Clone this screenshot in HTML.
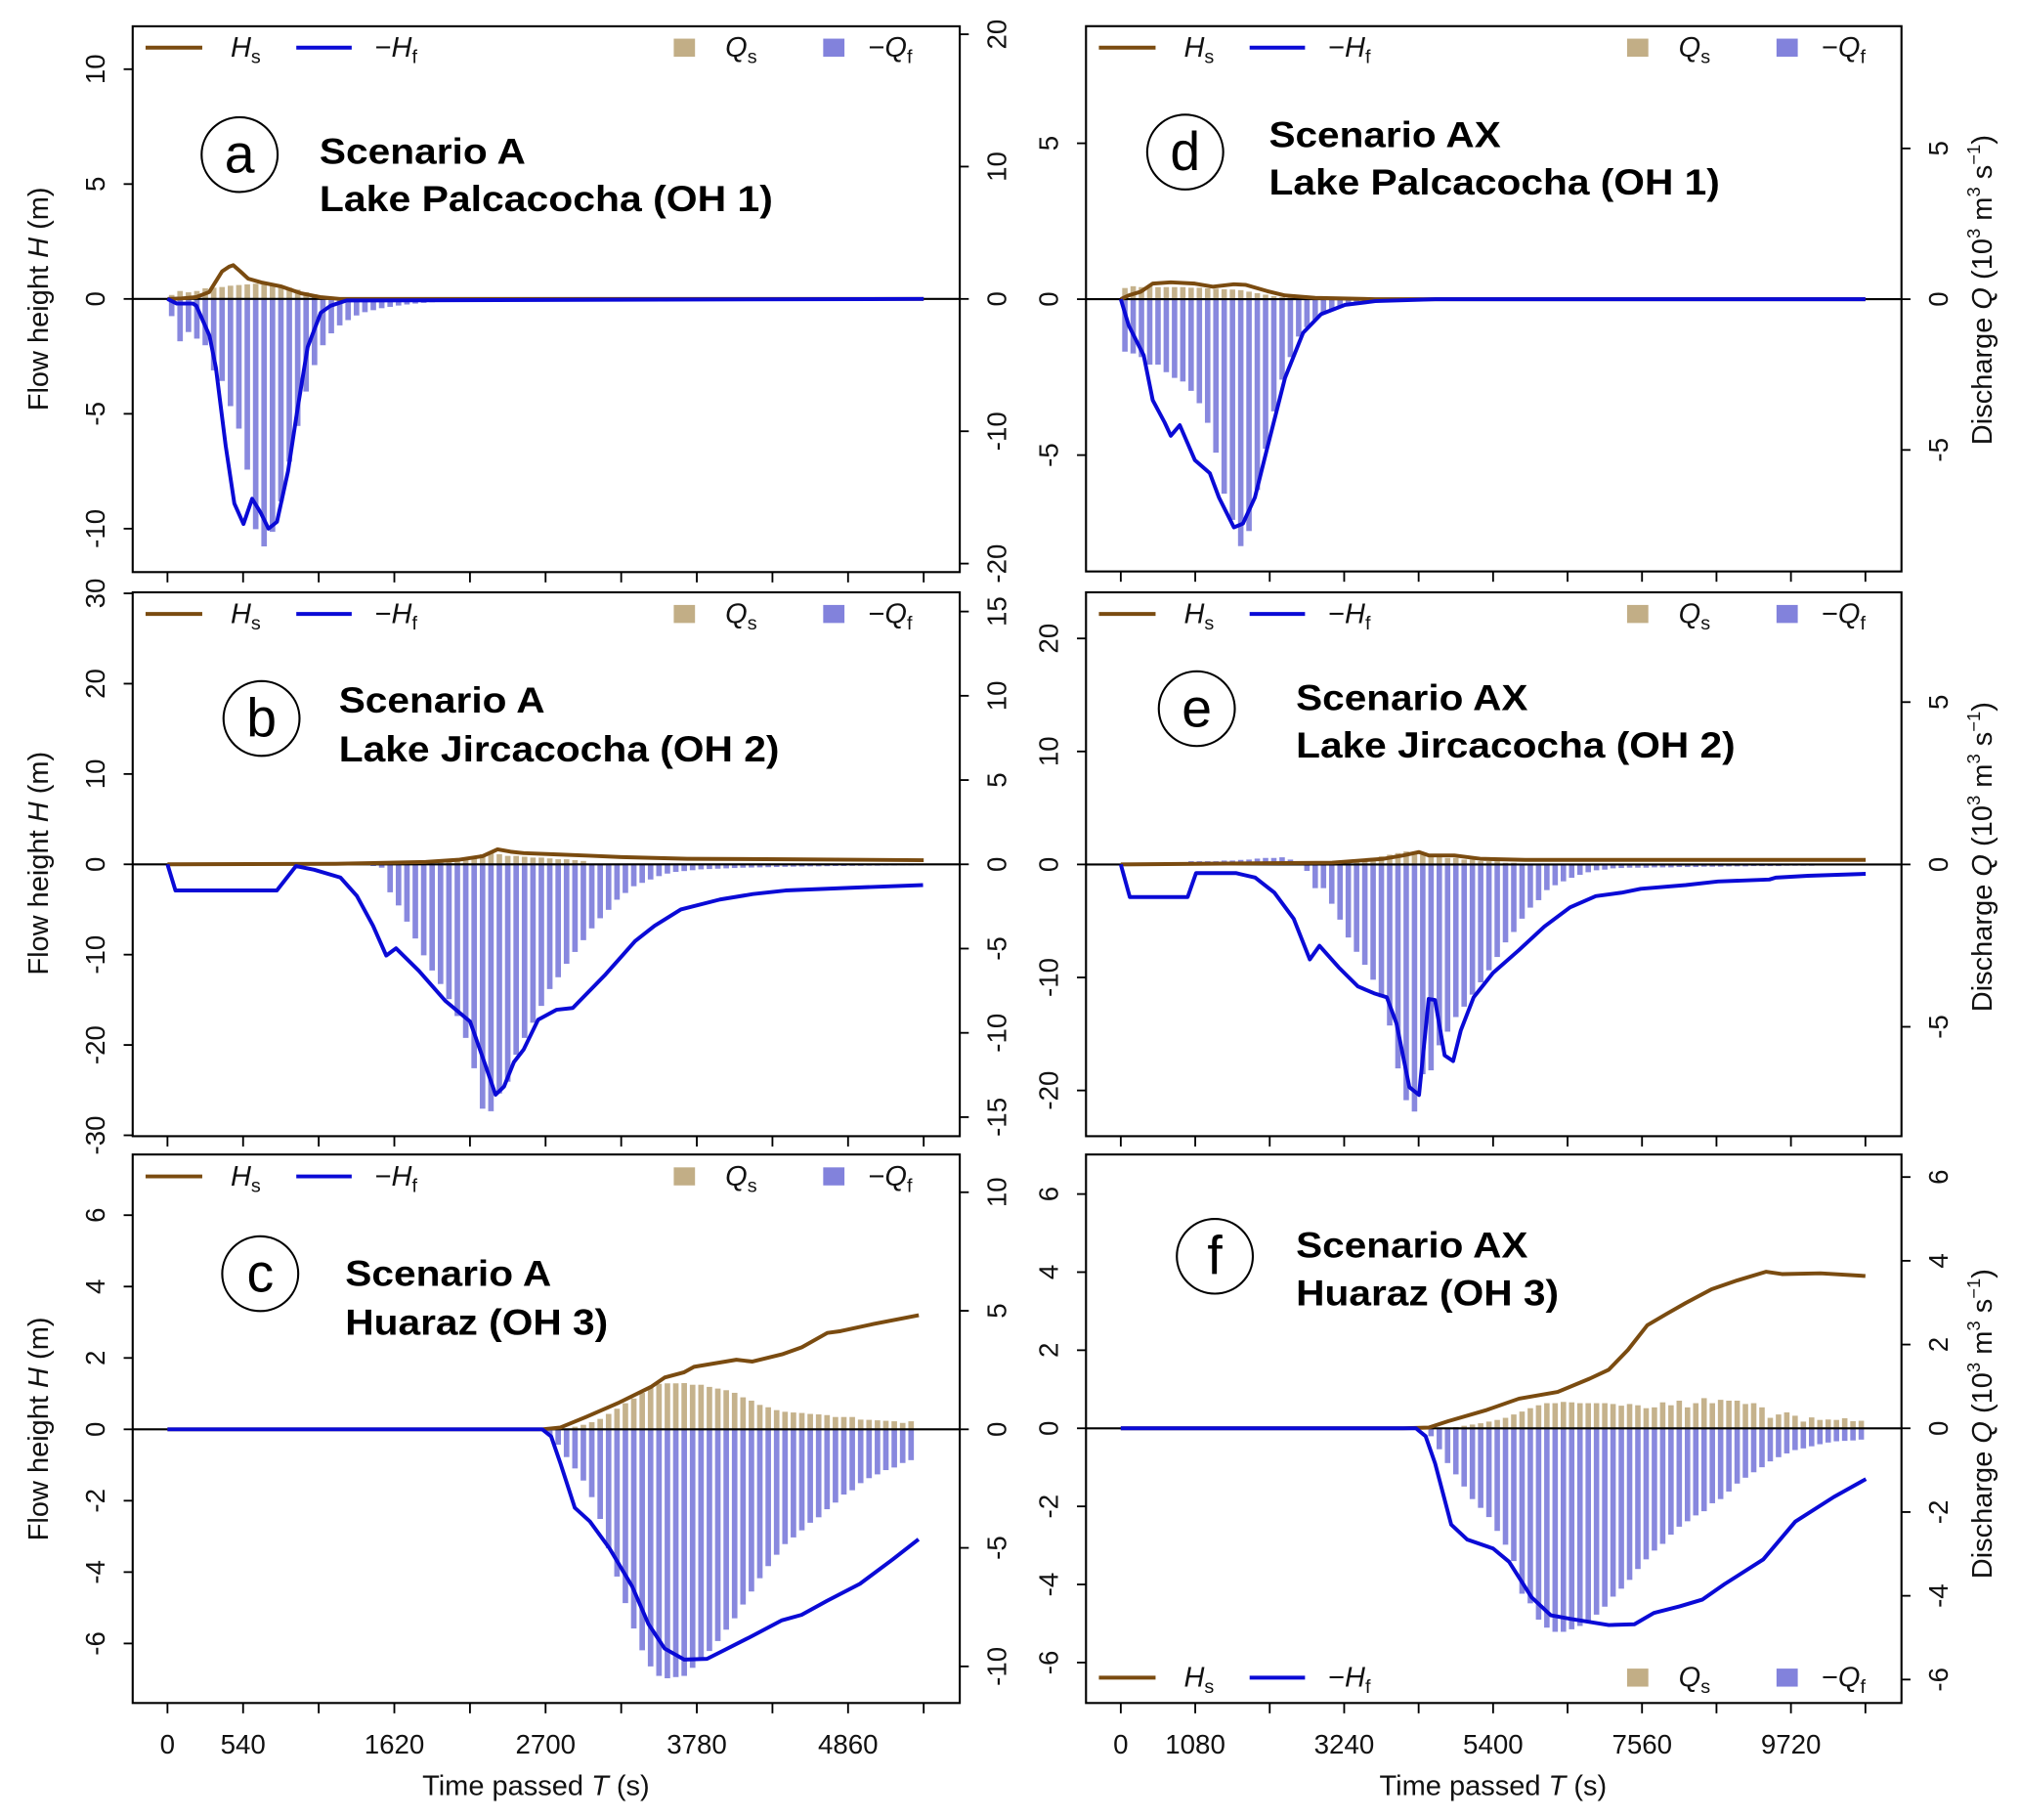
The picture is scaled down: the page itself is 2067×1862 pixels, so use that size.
<!DOCTYPE html>
<html><head><meta charset="utf-8"><style>
html,body{margin:0;padding:0;background:#fff;}
svg{display:block;font-family:"Liberation Sans",Arial,sans-serif;}
</style></head><body>
<svg id="fig" xmlns="http://www.w3.org/2000/svg" width="2067" height="1862" viewBox="0 0 1568 1412.5" preserveAspectRatio="none">
<rect x="0" y="0" width="1568" height="1412.5" fill="#fff"/>
</svg>
<script>
// ---------- categories / ticks ----------
const panels = ['a','b','c','d','e','f'];
const titles1 = ['Scenario A','Scenario A','Scenario A','Scenario AX','Scenario AX','Scenario AX'];
const titles2 = ['Lake Palcacocha (OH 1)','Lake Jircacocha (OH 2)','Huaraz (OH 3)','Lake Palcacocha (OH 1)','Lake Jircacocha (OH 2)','Huaraz (OH 3)'];
const hTicksA = [-10,-5,0,5,10];
const qTicksA = [-20,-10,0,10,20];
const hTicksB = [-30,-20,-10,0,10,20,30];
const qTicksB = [-15,-10,-5,0,5,10,15];
const hTicksC = [-6,-4,-2,0,2,4,6];
const qTicksC = [-10,-5,0,5,10];
const hTicksD = [-5,0,5];
const qTicksD = [-5,0,5];
const hTicksE = [-20,-10,0,10,20];
const qTicksE = [-5,0,5];
const hTicksF = [-6,-4,-2,0,2,4,6];
const qTicksF = [-6,-4,-2,0,2,4,6];
const xTicksLeft = [0,540,1080,1620,2160,2700,3240,3780,4320,4860,5400];
const xLabelsLeft = ['0','540','','1620','','2700','','3780','','4860',''];
const xTicksRight = [0,1080,2160,3240,4320,5400,6480,7560,8640,9720,10800];
const xLabelsRight = ['0','1080','','3240','','5400','','7560','','9720',''];
const dtA = 60;
const dtAX = 120;

// ---------- panel a ----------
const aHsT = [0,100,205,298,390,440,469,520,577,670,809,949,1090,1230,5400];
const aHs  = [0,0.02,0.08,0.3,1.2,1.4,1.47,1.2,0.88,0.72,0.55,0.25,0.08,0,0];
const aHfT = [0,66,183,206,300,346,416,477,543,604,665,721,782,861,931,1001,1095,1165,1280,5400];
const aHf  = [0,-0.2,-0.2,-0.3,-1.6,-3.0,-6.4,-8.9,-9.8,-8.7,-9.3,-10,-9.7,-7.5,-4.7,-2.1,-0.6,-0.3,-0.07,0];
const aQs = [0.3,0.6,0.5,0.6,0.8,0.85,0.9,1.0,1.05,1.1,1.15,1.2,1.1,1.0,0.85,0.7,0.5,0.35,0.2,0.1,0.05,0.03,0.02,0,0,0,0,0,0,0,0,0,0,0,0,0,0,0,0,0,0,0,0,0,0,0,0,0,0,0,0,0,0,0,0,0,0,0,0,0,0,0,0,0,0,0,0,0,0,0,0,0,0,0,0,0,0,0,0,0,0,0,0,0,0,0,0,0,0,0];
const aQf = [1.3,3.2,2.5,3.0,3.5,5.4,6.2,8.1,9.8,12.9,17.4,18.7,17.6,15.3,12.3,9.6,7.0,5.0,3.5,2.6,2.0,1.6,1.25,1.0,0.85,0.7,0.6,0.5,0.42,0.35,0.3,0.25,0.2,0.17,0.14,0.12,0.1,0.08,0.07,0.06,0.05,0.04,0.04,0.03,0.03,0.03,0.02,0.02,0.02,0.01,0.01,0.01,0.01,0.01,0,0,0,0,0,0,0,0,0,0,0,0,0,0,0,0,0,0,0,0,0,0,0,0,0,0,0,0,0,0,0,0,0,0,0,0];

// ---------- panel b ----------
const bHsT = [0,1200,1843,2076,2250,2357,2450,2544,2777,3011,3245,3712,4414,5400];
const bHs  = [0,0.05,0.25,0.5,0.9,1.66,1.4,1.24,1.1,0.95,0.8,0.62,0.55,0.45];
const bHfT = [0,57,781,917,1048,1235,1352,1468,1562,1632,1796,1983,2161,2240,2343,2404,2474,2544,2647,2777,2894,3128,3339,3478,3666,3946,4180,4414,4881,5395];
const bHf  = [0,-2.9,-2.9,-0.2,-0.6,-1.45,-3.5,-6.8,-10.1,-9.3,-11.8,-15.1,-17.4,-20.9,-25.5,-24.6,-21.9,-20.5,-17.2,-16.1,-15.9,-12.2,-8.5,-6.8,-5.0,-3.9,-3.3,-2.9,-2.6,-2.3];
const bQs = [0,0,0,0,0,0,0,0,0,0,0,0,0,0,0,0,0,0,0,0,0,0,0,0,0,0,0,0,0,0,0,0,0.1,0.15,0.2,0.3,0.4,0.6,0.7,0.6,0.5,0.5,0.45,0.4,0.4,0.35,0.3,0.3,0.25,0.2,0,0,0,0,0,0,0,0,0,0,0,0,0,0,0,0,0,0,0,0,0,0,0,0,0,0,0,0,0,0,0,0,0,0,0,0,0,0,0,0];
const bQf = [0,0,0,0,0,0,0,0,0,0,0,0,0,0,0,0,0,0,0,0,0,0,0,0,0.1,0.2,1.66,2.44,3.4,4.4,5.4,6.3,7.1,8.0,9.0,10.3,12.1,14.5,14.65,13.6,12.9,11.3,10.3,9.4,8.4,7.4,6.7,5.9,5.2,4.5,3.8,3.2,2.7,2.1,1.7,1.3,1.1,0.9,0.7,0.55,0.45,0.4,0.35,0.3,0.28,0.26,0.24,0.22,0.2,0.19,0.18,0.17,0.16,0.15,0.14,0.13,0.12,0.12,0.11,0.1,0.1,0.09,0.09,0.08,0.08,0.07,0.07,0.06,0.06,0.05];

// ---------- panel c ----------
const cHsT = [0,2676,2806,2991,3225,3457,3550,3690,3760,4062,4177,4388,4530,4712,4807,5040,5365];
const cHs  = [0,0,0.05,0.35,0.75,1.2,1.45,1.6,1.75,1.95,1.9,2.1,2.3,2.7,2.75,2.95,3.2];
const cHfT = [0,2676,2740,2806,2909,3016,3155,3318,3434,3550,3690,3853,3970,4155,4388,4528,4712,4945,5177,5363];
const cHf  = [0,0,-0.2,-0.95,-2.2,-2.58,-3.33,-4.4,-5.45,-6.14,-6.45,-6.43,-6.2,-5.83,-5.35,-5.2,-4.8,-4.33,-3.65,-3.08];
const cQs = [0,0,0,0,0,0,0,0,0,0,0,0,0,0,0,0,0,0,0,0,0,0,0,0,0,0,0,0,0,0,0,0,0,0,0,0,0,0,0,0,0,0,0,0,0,0,0,0.03,0.11,0.19,0.3,0.44,0.65,0.87,1.1,1.3,1.54,1.76,1.92,1.94,1.94,1.95,1.88,1.88,1.79,1.72,1.65,1.54,1.35,1.21,1.03,0.93,0.81,0.74,0.71,0.69,0.65,0.63,0.6,0.52,0.52,0.52,0.41,0.4,0.38,0.36,0.34,0.27,0.34,0];
const cQf = [0,0,0,0,0,0,0,0,0,0,0,0,0,0,0,0,0,0,0,0,0,0,0,0,0,0,0,0,0,0,0,0,0,0,0,0,0,0,0,0,0,0,0,0,0,0.25,0.65,1.17,1.65,2.16,2.86,3.78,5.02,6.21,7.33,8.4,9.32,10.0,10.4,10.5,10.45,10.4,10.06,9.73,9.35,8.93,8.45,7.97,7.39,6.84,6.28,5.77,5.29,4.84,4.56,4.26,3.94,3.71,3.37,3.09,2.75,2.57,2.27,2.06,1.9,1.72,1.61,1.42,1.3,0];

// ---------- panel d ----------
const dHsT = [0,114,289,463,725,1074,1335,1641,1815,2120,2382,2818,3690,10800];
const dHs  = [0,0.12,0.24,0.5,0.54,0.5,0.4,0.48,0.46,0.26,0.12,0.04,0,0];
const dHfT = [0,114,332,463,637,725,856,1074,1292,1423,1641,1772,1946,2120,2382,2644,2905,3254,3690,4563,10800];
const dHf  = [0,-0.84,-1.8,-3.24,-3.96,-4.38,-4.04,-5.16,-5.58,-6.36,-7.32,-7.2,-6.36,-4.8,-2.52,-1.08,-0.48,-0.18,-0.06,0,0];
const dQs = [0.37,0.43,0.4,0.42,0.4,0.4,0.4,0.4,0.38,0.38,0.36,0.35,0.33,0.32,0.3,0.25,0.2,0.15,0.1,0.07,0.05,0.03,0.02,0.01,0,0,0,0,0,0,0,0,0,0,0,0,0,0,0,0,0,0,0,0,0,0,0,0,0,0,0,0,0,0,0,0,0,0,0,0,0,0,0,0,0,0,0,0,0,0,0,0,0,0,0,0,0,0,0,0,0,0,0,0,0,0,0,0,0,0];
const dQf = [1.74,1.80,1.92,2.17,2.17,2.42,2.61,2.73,3.04,3.45,4.1,5.09,6.45,7.32,8.19,7.69,6.33,4.96,3.72,2.67,1.92,1.24,0.93,0.68,0.5,0.37,0.27,0.22,0.19,0.15,0.12,0.1,0.09,0.08,0.07,0.06,0.05,0.05,0.04,0.04,0.03,0.03,0.03,0.02,0.02,0.02,0.02,0.01,0.01,0.01,0.01,0.01,0.01,0.01,0.01,0,0,0,0,0,0,0,0,0,0,0,0,0,0,0,0,0,0,0,0,0,0,0,0,0,0,0,0,0,0,0,0,0,0,0];

// ---------- panel e ----------
const eHsT = [0,3067,3813,4093,4326,4465,4838,5211,5863,10804];
const eHs  = [0,0.16,0.5,0.8,1.1,0.8,0.8,0.5,0.4,0.4];
const eHfT = [0,130,970,1091,1669,1948,2228,2508,2741,2881,3160,3440,3673,3859,3999,4186,4326,4465,4558,4698,4820,4931,5118,5398,5770,6143,6516,6889,7262,7542,8194,8660,9406,9499,9965,10804];
const eHf  = [0,-2.88,-2.88,-0.76,-0.76,-1.16,-2.49,-4.8,-8.4,-7.2,-9.1,-10.8,-11.4,-11.76,-14.07,-19.7,-20.4,-11.9,-12.0,-16.9,-17.4,-14.7,-11.76,-9.6,-7.6,-5.5,-3.8,-2.8,-2.5,-2.15,-1.82,-1.5,-1.33,-1.16,-1.0,-0.83];
const eQs = [0,0,0,0,0,0,0,0,0,0,0,0,0,0,0,0,0,0,0,0,0,0,0,0,0,0,0,0.05,0.1,0.15,0.2,0.25,0.3,0.35,0.4,0.35,0.3,0.3,0.25,0.2,0.2,0.15,0.15,0.1,0.1,0.1,0.05,0.05,0,0,0,0,0,0,0,0,0,0,0,0,0,0,0,0,0,0,0,0,0,0,0,0,0,0,0,0,0,0,0,0,0,0,0,0,0,0,0,0,0,0];
const eQf = [0,0,0,0,0,0,0,0,-0.1,-0.1,-0.1,-0.1,-0.12,-0.12,-0.14,-0.15,-0.18,-0.2,-0.2,-0.22,-0.15,0,0.2,0.73,0.73,1.21,1.70,2.25,2.69,3.09,3.55,4.09,4.96,6.28,7.26,7.61,6.46,6.34,5.57,5.15,4.70,4.38,4.01,3.63,3.26,2.85,2.40,2.08,1.67,1.33,1.1,0.79,0.64,0.52,0.41,0.32,0.24,0.18,0.16,0.12,0.11,0.1,0.1,0.1,0.09,0.09,0.09,0.08,0.08,0.08,0.07,0.07,0.07,0.06,0.06,0.06,0.05,0.05,0.05,0.05,0.04,0.04,0.04,0.04,0.03,0.03,0.03,0.03,0.02,0.02];

// ---------- panel f ----------
const fHsT = [0,4094,4467,4747,5307,5776,6336,6800,7077,7357,7637,7917,8196,8569,8942,9357,9590,10149,10800];
const fHs  = [0,0,0.02,0.18,0.47,0.76,0.93,1.27,1.5,2.01,2.64,2.93,3.21,3.56,3.79,4.01,3.95,3.97,3.9];
const fHfT = [0,4280,4420,4560,4792,5026,5400,5632,5958,6238,6518,7077,7450,7731,8105,8432,8758,9318,9784,10343,10807];
const fHf  = [0,0,-0.2,-0.9,-2.47,-2.85,-3.08,-3.42,-4.33,-4.79,-4.88,-5.04,-5.02,-4.73,-4.56,-4.39,-3.99,-3.36,-2.39,-1.76,-1.3];
const fQs = [0,0,0,0,0,0,0,0,0,0,0,0,0,0,0,0,0,0,0,0,0,0,0,0,0,0,0,0,0,0,0,0,0,0,0,0,0,0,0.01,0.02,0.03,0.06,0.09,0.12,0.16,0.2,0.25,0.33,0.4,0.48,0.55,0.6,0.6,0.63,0.62,0.6,0.6,0.6,0.6,0.58,0.54,0.58,0.55,0.48,0.5,0.62,0.55,0.66,0.5,0.6,0.72,0.6,0.68,0.66,0.66,0.58,0.6,0.5,0.25,0.33,0.38,0.3,0.16,0.26,0.2,0.21,0.2,0.24,0.17,0.18];
const fQf = [0,0,0,0,0,0,0,0,0,0,0,0,0,0,0,0,0,0,0,0,0,0,0,0,0,0,0,0,0,0,0,0,0,0,0,0,0,0.19,0.5,0.83,1.1,1.39,1.69,1.9,2.12,2.45,2.78,3.17,3.95,4.18,4.57,4.76,4.86,4.86,4.8,4.72,4.6,4.45,4.26,4.02,3.83,3.62,3.36,3.13,2.92,2.76,2.54,2.35,2.22,2.08,1.98,1.79,1.69,1.51,1.32,1.18,1.05,0.93,0.79,0.69,0.6,0.52,0.48,0.43,0.38,0.34,0.31,0.3,0.29,0.27];

// ---------- layout (geometry, not data) ----------
const L = {x0:103,x1:745,tx0:130,tx1:717,tmax:5400,dt:dtA,xt:xTicksLeft,xl:xLabelsLeft};
const R = {x0:843,x1:1476,tx0:870,tx1:1448,tmax:10800,dt:dtAX,xt:xTicksRight,xl:xLabelsRight};
const cfg = {
 a:{col:L,y0:20.4,y1:444,hz:232,hs:17.83,qs:10.27,ht:hTicksA,qt:qTicksA,HsT:aHsT,Hs:aHs,HfT:aHfT,Hf:aHf,Qs:aQs,Qf:aQf,cx:186,cy:120,tx:248,b1:127,b2:164,w1:160,w2:352,leg:37,bottom:false},
 b:{col:L,y0:459.7,y1:881.8,hz:670.8,hs:7.01,qs:13.08,ht:hTicksB,qt:qTicksB,HsT:bHsT,Hs:bHs,HfT:bHfT,Hf:bHf,Qs:bQs,Qf:bQf,cx:203,cy:557.6,tx:263,b1:553,b2:591,w1:160,w2:342,leg:476.5,bottom:false},
 c:{col:L,y0:896,y1:1321.7,hz:1109.3,hs:27.7,qs:18.4,ht:hTicksC,qt:qTicksC,HsT:cHsT,Hs:cHs,HfT:cHfT,Hf:cHf,Qs:cQs,Qf:cQf,cx:202,cy:988.5,tx:268,b1:998,b2:1036,w1:160,w2:204,leg:913,bottom:true},
 d:{col:R,y0:20.3,y1:443.5,hz:232.2,hs:24.2,qs:23.4,ht:hTicksD,qt:qTicksD,HsT:dHsT,Hs:dHs,HfT:dHfT,Hf:dHf,Qs:dQs,Qf:dQf,cx:920,cy:118,tx:985,b1:114,b2:151,w1:180,w2:350,leg:37,bottom:false},
 e:{col:R,y0:459.7,y1:881.8,hz:670.9,hs:8.77,qs:25.2,ht:hTicksE,qt:qTicksE,HsT:eHsT,Hs:eHs,HfT:eHfT,Hf:eHf,Qs:eQs,Qf:eQf,cx:929,cy:550,tx:1006,b1:551,b2:588,w1:180,w2:341,leg:476.5,bottom:false},
 f:{col:R,y0:896,y1:1321.7,hz:1108.5,hs:30.3,qs:32.5,ht:hTicksF,qt:qTicksF,HsT:fHsT,Hs:fHs,HfT:fHfT,Hf:fHf,Qs:fQs,Qf:fQf,cx:943,cy:975,tx:1006,b1:976,b2:1013,w1:180,w2:204,leg:1302,bottom:true}
};

const NS = 'http://www.w3.org/2000/svg';
const svg = document.getElementById('fig');
function mk(tag, attrs, parent){
  const e = document.createElementNS(NS, tag);
  for (const k in attrs) e.setAttribute(k, attrs[k]);
  (parent || svg).appendChild(e);
  return e;
}
const HS_COL = '#7a4b10', HF_COL = '#0a0ad6', QS_COL = '#c2ae86', QF_COL = '#8282dc';

panels.forEach(function(p, pi){
  const c = cfg[p], col = c.col;
  const g = mk('g', {});
  
  
  const xS = t => col.tx0 + (t / col.tmax) * (col.tx1 - col.tx0);
  const hS = h => c.hz - h * c.hs;
  const qS = q => c.hz - q * c.qs;
  const bw = (col.tx1 - col.tx0) * col.dt / col.tmax * 0.66;

  const qsG = mk('g', {fill: QS_COL, 'fill-opacity': 0.95}, g);
  
  
  c.Qs.forEach(function(v, i){
    if (!v) return;
    const t = (i + 0.5) * col.dt;
    const y = qS(v);
    const r = mk('rect', {x: xS(t) - bw/2, y: Math.min(y, c.hz), width: bw, height: Math.abs(c.hz - y)}, qsG);
    
    
  });
  const qfG = mk('g', {fill: QF_COL, 'fill-opacity': 0.95}, g);
  
  
  c.Qf.forEach(function(v, i){
    if (!v) return;
    const t = (i + 0.5) * col.dt;
    const y = qS(-v);
    const r = mk('rect', {x: xS(t) - bw/2, y: Math.min(y, c.hz), width: bw, height: Math.abs(c.hz - y)}, qfG);
    
    
  });

  const zl = mk('line', {x1: col.x0, x2: col.x1, y1: c.hz, y2: c.hz, stroke: '#000', 'stroke-width': 1.6}, g);
  
  

  const hsPts = c.HsT.map((t, i) => xS(t).toFixed(1) + ',' + hS(c.Hs[i]).toFixed(1)).join(' ');
  const hsL = mk('polyline', {points: hsPts, fill: 'none', stroke: HS_COL, 'stroke-width': 3, 'stroke-linejoin': 'round'}, g);
  
  
  const hfPts = c.HfT.map((t, i) => xS(t).toFixed(1) + ',' + hS(c.Hf[i]).toFixed(1)).join(' ');
  const hfL = mk('polyline', {points: hfPts, fill: 'none', stroke: HF_COL, 'stroke-width': 3, 'stroke-linejoin': 'round'}, g);
  
  

  const box = mk('rect', {x: col.x0, y: c.y0, width: col.x1 - col.x0, height: c.y1 - c.y0, fill: 'none', stroke: '#000', 'stroke-width': 1.6}, g);
  
  

  const hAx = mk('g', {}, g);
  
  
  c.ht.forEach(function(v){
    const y = hS(v);
    mk('line', {x1: col.x0, x2: col.x0 - 7, y1: y, y2: y, stroke: '#000', 'stroke-width': 1.4}, hAx);
    const tx = mk('text', {transform: 'translate(' + (col.x0 - 22) + ',' + y + ') rotate(-90)', 'text-anchor': 'middle', 'font-size': 21, fill: '#111'}, hAx);
    
    
    tx.textContent = String(v);
  });
  const qAx = mk('g', {}, g);
  
  
  c.qt.forEach(function(v){
    const y = qS(v);
    mk('line', {x1: col.x1, x2: col.x1 + 7, y1: y, y2: y, stroke: '#000', 'stroke-width': 1.4}, qAx);
    const tx = mk('text', {transform: 'translate(' + (col.x1 + 36) + ',' + y + ') rotate(-90)', 'text-anchor': 'middle', 'font-size': 21, fill: '#111'}, qAx);
    
    
    tx.textContent = String(v);
  });
  const xAx = mk('g', {}, g);
  
  
  col.xt.forEach(function(t, i){
    const x = xS(t);
    mk('line', {x1: x, x2: x, y1: c.y1, y2: c.y1 + 8, stroke: '#000', 'stroke-width': 1.4}, xAx);
    if (c.bottom && col.xl[i]) {
      const tx = mk('text', {x: x, y: 1361, 'text-anchor': 'middle', 'font-size': 21, fill: '#111'}, xAx);
      
      
      tx.textContent = col.xl[i];
    }
  });

  const circ = mk('ellipse', {cx: c.cx, cy: c.cy, rx: 29.5, ry: 29, fill: '#fff', stroke: '#000', 'stroke-width': 1.6}, g);
  
  
  const letter = mk('text', {x: c.cx, y: c.cy + 14, 'text-anchor': 'middle', 'font-size': 42, fill: '#000'}, g);
  
  
  letter.textContent = p;
  const t1 = mk('text', {x: c.tx, y: c.b1, 'font-size': 28, 'font-weight': 'bold', textLength: c.w1, lengthAdjust: 'spacingAndGlyphs', fill: '#000'}, g);
  
  
  t1.textContent = titles1[pi];
  const t2 = mk('text', {x: c.tx, y: c.b2, 'font-size': 28, 'font-weight': 'bold', textLength: c.w2, lengthAdjust: 'spacingAndGlyphs', fill: '#000'}, g);
  
  
  t2.textContent = titles2[pi];

  const lg = mk('g', {'font-size': 22, fill: '#111'}, g);
  
  
  const ly = c.leg, x0 = col.x0;
  mk('line', {x1: x0 + 10, x2: x0 + 54, y1: ly, y2: ly, stroke: HS_COL, 'stroke-width': 3}, lg);
  const l1 = mk('text', {x: x0 + 76, y: ly + 7}, lg);
  
  
  l1.innerHTML = '<tspan font-style="italic">H</tspan><tspan font-size="15" dy="5">s</tspan>';
  mk('line', {x1: x0 + 127, x2: x0 + 170, y1: ly, y2: ly, stroke: HF_COL, 'stroke-width': 3}, lg);
  const l2 = mk('text', {x: x0 + 188, y: ly + 7}, lg);
  
  
  l2.innerHTML = '\u2212<tspan font-style="italic">H</tspan><tspan font-size="15" dy="5">f</tspan>';
  mk('rect', {x: x0 + 420, y: ly - 7, width: 16.5, height: 14, fill: QS_COL}, lg);
  const l3 = mk('text', {x: x0 + 460, y: ly + 7}, lg);
  
  
  l3.innerHTML = '<tspan font-style="italic">Q</tspan><tspan font-size="15" dy="5">s</tspan>';
  mk('rect', {x: x0 + 536, y: ly - 7, width: 16.5, height: 14, fill: QF_COL}, lg);
  const l4 = mk('text', {x: x0 + 571, y: ly + 7}, lg);
  
  
  l4.innerHTML = '\u2212<tspan font-style="italic">Q</tspan><tspan font-size="15" dy="5">f</tspan>';
});

[232, 670, 1109].forEach(function(cy){
  const t = mk('text', {transform: 'translate(37,' + cy + ') rotate(-90)', 'text-anchor': 'middle', 'font-size': 22, fill: '#111'});
  
  
  t.innerHTML = 'Flow height <tspan font-style="italic">H</tspan> (m)';
});
[225, 665, 1105].forEach(function(cy){
  const t = mk('text', {transform: 'translate(1546,' + cy + ') rotate(-90)', 'text-anchor': 'middle', 'font-size': 22, fill: '#111'});
  
  
  t.innerHTML = 'Discharge <tspan font-style="italic">Q</tspan> (10<tspan font-size="14" dy="-9">3</tspan><tspan dy="9"> m</tspan><tspan font-size="14" dy="-9">3</tspan><tspan dy="9"> s</tspan><tspan font-size="14" dy="-9">\u22121</tspan><tspan dy="9">)</tspan>';
});
[416, 1159].forEach(function(cx){
  const t = mk('text', {x: cx, y: 1393, 'text-anchor': 'middle', 'font-size': 22, fill: '#111'});
  
  
  t.innerHTML = 'Time passed <tspan font-style="italic">T</tspan> (s)';
});
</script>
</body></html>
